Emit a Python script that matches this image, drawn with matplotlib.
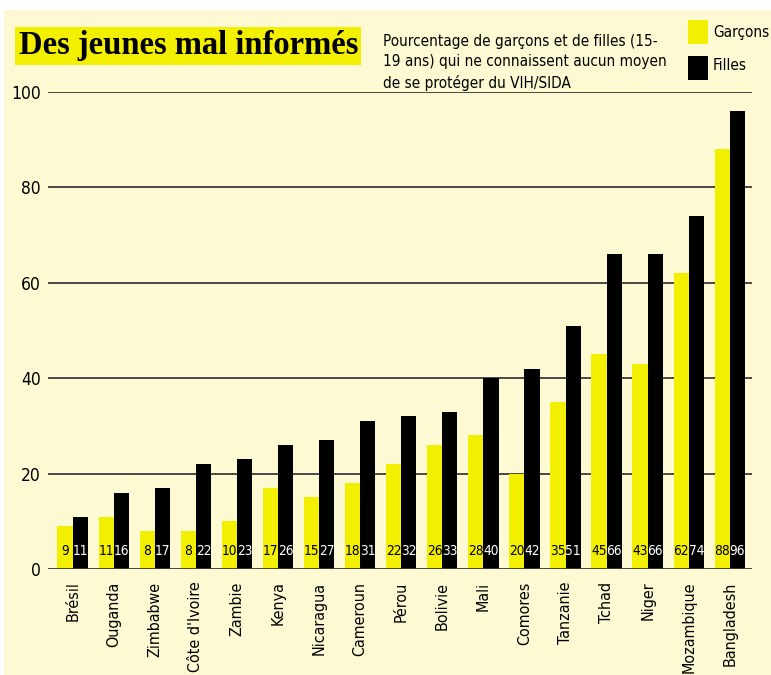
import matplotlib
matplotlib.use("Agg")
import matplotlib.pyplot as plt
import numpy as np
from matplotlib.patches import Rectangle

# data
countries = ["Brésil", "Ouganda", "Zimbabwe", "Côte d'Ivoire", "Zambie", "Kenya",
             "Nicaragua", "Cameroun", "Pérou", "Bolivie", "Mali", "Comores",
             "Tanzanie", "Tchad", "Niger", "Mozambique", "Bangladesh"]
garcons = [9, 11, 8, 8, 10, 17, 15, 18, 22, 26, 28, 20, 35, 45, 43, 62, 88]
filles = [11, 16, 17, 22, 23, 26, 27, 31, 32, 33, 40, 42, 51, 66, 66, 74, 96]
yticks = [0, 20, 40, 60, 80, 100]

YELLOW = "#f3ef00"
CREAM = "#fdf9d3"
NARROW = dict(family="DejaVu Sans", fontstretch="condensed")

fig = plt.figure(figsize=(7.71, 6.75), dpi=100)
fig.patch.set_facecolor("white")
fig.patches.append(Rectangle((0.005, 0), 0.995, 0.985, transform=fig.transFigure,
                             facecolor=CREAM, edgecolor="none", zorder=-10))

ax = fig.add_axes([0.0623, 0.157, 0.913, 0.7067])
ax.set_facecolor("none")

x = np.arange(len(countries))
w = 0.37
ax.bar(x - w / 2, garcons, w, color=YELLOW, zorder=2)
ax.bar(x + w / 2, filles, w, color="black", zorder=2)

# value labels at the foot of each bar
for i in range(len(countries)):
    ax.text(x[i] - w / 2, 3.7, str(garcons[i]), ha="center", va="center",
            fontsize=9.8, color="black", zorder=4, **NARROW)
    ax.text(x[i] + w / 2, 3.7, str(filles[i]), ha="center", va="center",
            fontsize=9.8, color="white", zorder=4, **NARROW)

ax.set_xlim(-0.6, len(countries) - 0.46)
ax.set_ylim(0, 100)
ax.set_yticks(yticks)
ax.set_yticklabels([str(t) for t in yticks], fontsize=12.5, **NARROW)
ax.set_xticks(x)
ax.set_xticklabels(countries, rotation=90, fontsize=11.5,
                   ha="center", va="top", **NARROW)
ax.tick_params(length=0, pad=9)
ax.tick_params(axis="y", pad=5)
for s in ax.spines.values():
    s.set_visible(False)
for t in yticks[1:]:
    ax.axhline(t, color="#3a3a3a", lw=1.3, zorder=1)
ax.axhline(0, color="#3a3a3a", lw=1.3, zorder=3)

# title
fig.text(0.024, 0.932, "Des jeunes mal informés", fontsize=23.5, fontweight="bold",
         family=["Liberation Serif", "DejaVu Serif"], va="center", ha="left",
         bbox=dict(boxstyle="square,pad=0.1", facecolor=YELLOW, edgecolor="none"))

fig.text(0.497, 0.95,
         "Pourcentage de garçons et de filles (15-\n19 ans) qui ne connaissent aucun moyen\nde se protéger du VIH/SIDA",
         fontsize=11, va="top", ha="left", linespacing=1.45, **NARROW)

# legend
fig.patches.append(Rectangle((688 / 771, 1 - 44 / 675), 20 / 771, 24 / 675,
                             transform=fig.transFigure, facecolor=YELLOW,
                             edgecolor="none"))
fig.patches.append(Rectangle((688 / 771, 1 - 80 / 675), 20 / 771, 24 / 675,
                             transform=fig.transFigure, facecolor="black",
                             edgecolor="none"))
fig.text(713 / 771, 1 - 33 / 675, "Garçons", fontsize=11, va="center", **NARROW)
fig.text(713 / 771, 1 - 66 / 675, "Filles", fontsize=11, va="center", **NARROW)

fig.savefig("out.png", dpi=100, facecolor=fig.get_facecolor())
